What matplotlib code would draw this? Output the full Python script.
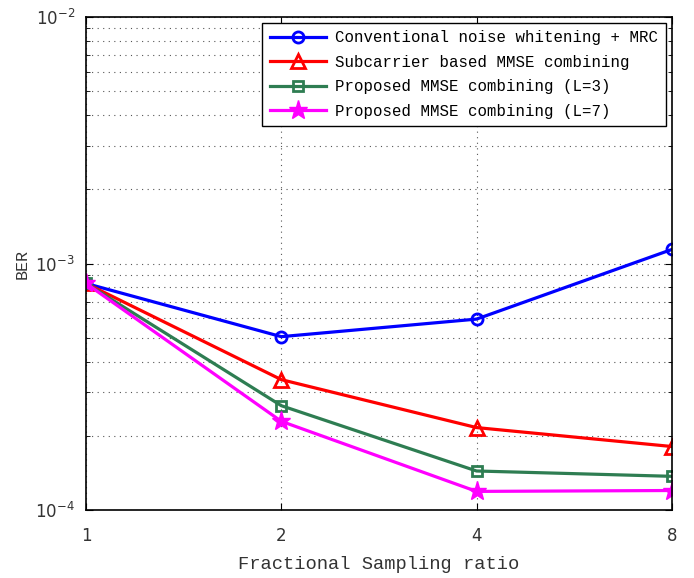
import numpy as np
import matplotlib.pyplot as plt
from matplotlib.ticker import LogLocator, NullFormatter

# data
ratios = [1, 2, 4, 8]
ber_conv = [8.3e-4, 5.05e-4, 5.95e-4, 1.14e-3]
ber_sub = [8.3e-4, 3.38e-4, 2.16e-4, 1.81e-4]
ber_l3 = [8.3e-4, 2.65e-4, 1.44e-4, 1.37e-4]
ber_l7 = [8.3e-4, 2.29e-4, 1.19e-4, 1.20e-4]

labels = ["Conventional noise whitening + MRC",
          "Subcarrier based MMSE combining",
          "Proposed MMSE combining (L=3)",
          "Proposed MMSE combining (L=7)"]

mono = "Liberation Mono"

fig = plt.figure(figsize=(6.94, 5.78), dpi=100)
ax = fig.add_axes([0.124, 0.1176, 0.844, 0.853])

x = np.log2(ratios)
ax.plot(x, ber_conv, "-o", color="#0000ff", lw=2.3, ms=8, mfc="none", mew=2, label=labels[0])
ax.plot(x, ber_sub, "-^", color="#ff0000", lw=2.3, ms=10, mfc="none", mew=2, label=labels[1])
ax.plot(x, ber_l3, "-s", color="#2e7d52", lw=2.3, ms=7, mfc="none", mew=2, label=labels[2])
ax.plot(x, ber_l7, "-*", color="#ff00ff", lw=2.3, ms=14, label=labels[3])

ax.set_yscale("log")
ax.set_ylim(1e-4, 1e-2)
ax.set_xlim(0, 3)
ax.set_xticks(x)
ax.set_xticklabels([str(r) for r in ratios])
ax.yaxis.set_major_locator(LogLocator(base=10))
ax.yaxis.set_minor_locator(LogLocator(base=10, subs=np.arange(2, 10)))
ax.yaxis.set_minor_formatter(NullFormatter())

ax.grid(True, which="major", linestyle=(0, (1, 4)), color="#555555", lw=0.8)
ax.grid(True, which="minor", axis="y", linestyle=(0, (1, 4)), color="#555555", lw=0.8)

ax.tick_params(which="both", direction="in", top=True, right=True, labelsize=12,
               labelcolor="#333333")
ax.tick_params(axis="x", pad=12)
ax.tick_params(axis="y", pad=8)
ax.tick_params(which="major", length=5)
ax.tick_params(which="minor", length=3)
for s in ax.spines.values():
    s.set_linewidth(1.2)

ax.set_xlabel("Fractional Sampling ratio", fontfamily=mono, fontsize=13.5, color="#333333",
              labelpad=8)
ax.set_ylabel("BER", fontfamily=mono, fontsize=12, color="#333333")

leg = ax.legend(loc="upper right", prop={"family": mono, "size": 11.3}, fancybox=False,
                edgecolor="black", framealpha=1, handlelength=3.6, borderaxespad=0.4,
                labelspacing=0.6, handletextpad=0.6, borderpad=0.45)
leg.get_frame().set_linewidth(1.0)

fig.savefig("out.png", dpi=100)
